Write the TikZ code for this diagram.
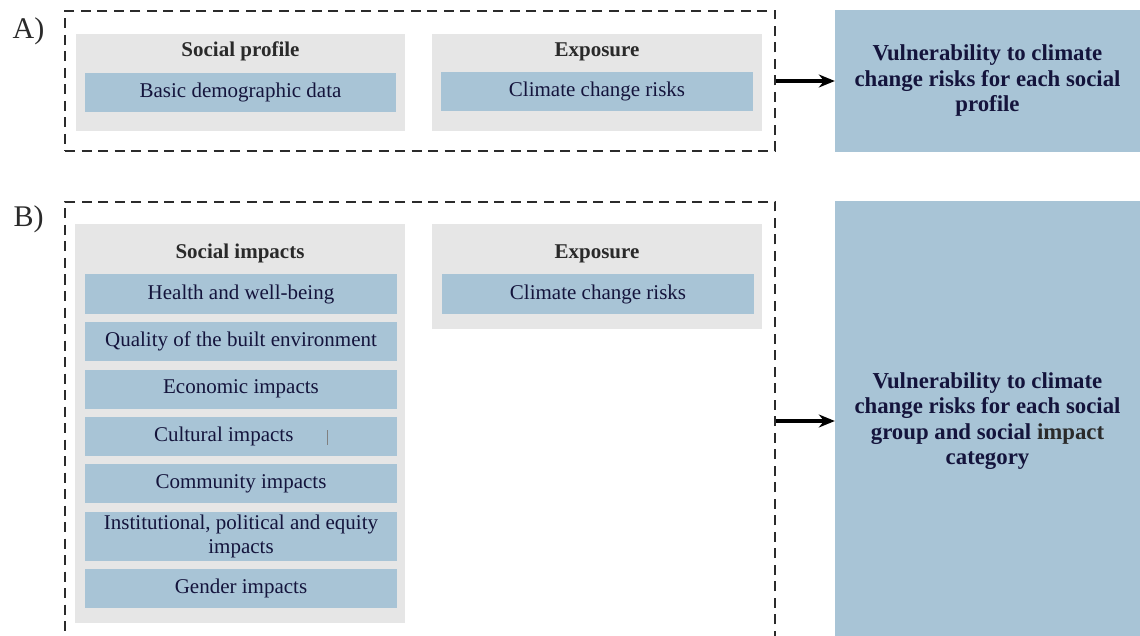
\documentclass[tikz,border=0pt]{standalone}
\usepackage{fontspec}
\setmainfont{Liberation Serif}
\usetikzlibrary{arrows.meta}
\definecolor{boxblue}{HTML}{A8C4D6}
\definecolor{boxgrey}{HTML}{E6E6E6}
\definecolor{navy}{HTML}{14143C}
\definecolor{titlegrey}{HTML}{2A2A2A}
\definecolor{dashcol}{HTML}{2B2B2B}
\tikzset{
  dashbox/.style={draw=dashcol, line width=2.6pt, dash pattern=on 10pt off 6.5pt, inner sep=0pt},
  greybox/.style={fill=boxgrey, inner sep=0pt},
  item/.style={fill=boxblue, inner sep=0pt, minimum width=312pt, minimum height=39pt,
    font=\fontsize{21}{24}\selectfont, text=navy, align=center},
  ttl/.style={font=\fontsize{21}{24}\selectfont\bfseries, text=titlegrey},
  result/.style={fill=boxblue, inner sep=0pt, minimum width=305pt, align=center,
    font=\fontsize{22.8}{25.5}\selectfont\bfseries, text=navy},
  lbl/.style={font=\fontsize{30}{32}\selectfont, text=titlegrey},
  arr/.style={line width=3.5pt, -{Stealth[length=16pt,width=13pt]}}
}
\begin{document}
\begin{tikzpicture}[x=1pt,y=-1pt]
\clip (0,0) rectangle (1140,636);
\fill[white] (0,0) rectangle (1140,636);
% Part A
\node[lbl] (la) at (28.5,31) {A)};
\node[dashbox, minimum width=710pt, minimum height=140pt] (dashA) at (420,81) {};
\node[greybox, minimum width=329pt, minimum height=97pt] (gpA) at (240.5,82.5) {};
\node[ttl] (tpA) at (240.5,51.5) {Social profile};
\node[item, minimum width=311pt] (bA1) at (240.5,92.5) {Basic demographic data};
\node[greybox, minimum width=330pt, minimum height=97pt] (geA) at (597,82.5) {};
\node[ttl] (teA) at (597,51.5) {Exposure};
\node[item] (bA2) at (597,91.5) {Climate change risks};
\node[result, minimum height=142pt] (resA) at (987.5,81) {Vulnerability to climate\\change risks for each social\\profile};
\draw[arr] (dashA.east) -- (resA.west);
% Part B
\node[lbl] (lb) at (28.5,219) {B)};
\node[dashbox, minimum width=710pt, minimum height=438pt] (dashB) at (420,421) {};
\node[greybox, minimum width=330pt, minimum height=399pt] (gsB) at (240,423.5) {};
\node[ttl] (tsB) at (240,253.5) {Social impacts};
\node[item] (i1) at (241,294) {Health and well-being};
\node[item] (i2) at (241,341.5) {Quality of the built environment};
\node[item] (i3) at (241,389) {Economic impacts};
\node[item] (i4) at (241,436.5) {Cultural impacts\hspace{34pt}{\color{gray}\rule[-3pt]{0.6pt}{15pt}}};
\node[item] (i5) at (241,483.5) {Community impacts};
\node[item, minimum height=49pt] (i6) at (241,536.5) {Institutional, political and equity\\impacts};
\node[item] (i7) at (241,588.5) {Gender impacts};
\node[greybox, minimum width=330pt, minimum height=105pt] (geB) at (597,276.5) {};
\node[ttl] (teB) at (597,253.5) {Exposure};
\node[item] (bB2) at (598,294) {Climate change risks};
\node[result, minimum height=440pt] (resB) at (987.5,421) {Vulnerability to climate\\change risks for each social\\group and social {\color{titlegrey}impact}\\category};
\draw[arr] (dashB.east) -- (resB.west);
\end{tikzpicture}
\end{document}
